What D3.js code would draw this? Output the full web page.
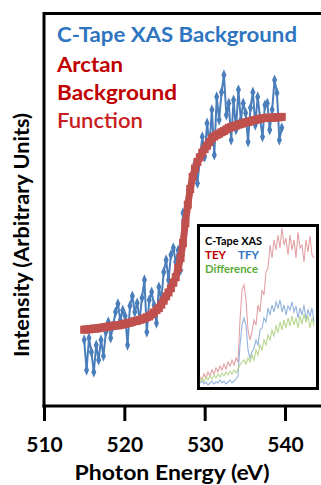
<!DOCTYPE html>
<html><head><meta charset="utf-8">
<script src="https://cdn.jsdelivr.net/npm/d3@7"></script>
<style>html,body{margin:0;padding:0;background:#fff;}svg{display:block;}</style>
</head><body>
<script>
// ---- Data ----
const energyStart = 515, energyStep = 0.3;
const xasBackground = [
 16.6, 8.9, 17.1, 13.5, 8.4, 15.3, 11.5, 16.6, 12.5, 18.6,
 21.2, 17.1, 20.2, 23.7, 25.8, 21.7, 24.2, 22.7, 15.3, 25.3,
 27.8, 23.7, 26.0, 21.7, 27.3, 31.9, 18.6, 26.8, 28.8, 25.5,
 20.9, 30.1, 26.8, 33.9, 37.0, 31.9, 38.3, 40.1, 36.5, 39.5,
 34.4, 49.0, 45.2, 51.0, 54.8, 57.9, 61.7, 56.6, 62.5, 68.4,
 63.3, 71.9, 66.3, 75.3, 63.8, 78.6, 72.7, 79.8, 84.2, 74.0,
 77.0, 67.6, 77.8, 70.2, 80.4, 72.7, 77.0, 74.5, 67.1, 75.8,
 79.8, 71.4, 78.6, 73.2, 68.4, 76.5, 77.0, 70.2, 75.3, 82.9,
 79.6, 67.6, 70.7];
const arctanBackground = [
 19.2, 19.3, 19.3, 19.4, 19.5, 19.5, 19.6, 19.7, 19.8, 19.9,
 20.0, 20.1, 20.2, 20.3, 20.3, 20.4, 20.6, 20.7, 20.9, 21.0,
 21.2, 21.4, 21.5, 21.7, 21.9, 22.1, 22.4, 22.6, 23.1, 23.6,
 24.2, 24.7, 25.6, 26.6, 27.7, 28.7, 29.8, 31.2, 32.6, 35.0,
 37.5, 41.3, 46.4, 51.1, 55.1, 58.2, 60.3, 62.0, 63.2, 64.4,
 65.3, 66.2, 67.1, 68.0, 68.5, 68.9, 69.2, 69.6, 69.9, 70.3,
 70.7, 70.9, 71.1, 71.3, 71.5, 71.7, 71.9, 72.1, 72.2, 72.4,
 72.6, 72.7, 72.9, 73.0, 73.2, 73.2, 73.3, 73.3, 73.3, 73.3,
 73.4, 73.4, 73.5];
const energies = xasBackground.map((_, i) => +(energyStart + i * energyStep).toFixed(2));
const xTicks = [510, 520, 530, 540];

// inset (arbitrary units)
const insetTEY = [
 12,9,15,11,17,13,19,15,21,17,23,19,25,20,27,23,29,24,31,27,
 69,99,104,89,59,49,57,69,64,84,77,99,94,117,121,144,131,149,139,154,
 141,161,144,151,134,154,139,149,131,157,141,144,127,149,137,153,134,131];
const insetTFY = [
 6,8,5,7,4,6,8,5,7,6,9,6,8,5,7,9,6,8,10,13,
 44,64,71,64,39,31,37,41,49,44,59,61,71,67,81,74,84,77,87,81,
 89,77,84,74,83,79,87,77,83,71,81,74,84,69,79,73,81,67];
const insetDiff = [
 8,11,7,12,9,13,10,14,11,15,12,16,13,17,14,18,15,19,16,20,
 24,27,29,25,31,27,34,29,39,34,44,39,49,44,54,49,59,53,63,57,
 67,59,69,61,71,63,73,64,71,61,73,65,75,67,73,61,71,63];

// ---- Chart ----
const W = 321, H = 485;
const FONT = "Lato, 'Open Sans', sans-serif";
const svg = d3.select("body").append("svg").attr("width", W).attr("height", H);

const x = d3.scaleLinear().domain([510, 540]).range([44, 285]);
const y = d3.scaleLinear().domain([0, 100]).range([405, 13]);

// frame lines
svg.append("line").attr("x1", 44).attr("x2", W).attr("y1", 13.5).attr("y2", 13.5)
  .attr("stroke", "#000").attr("stroke-width", 3);
svg.append("line").attr("x1", 44).attr("x2", 44).attr("y1", 12).attr("y2", 407.5)
  .attr("stroke", "#000").attr("stroke-width", 3);

// x axis
const xAxis = d3.axisBottom(x).tickValues(xTicks).tickSize(15).tickPadding(16).tickFormat(d3.format("d"));
const gx = svg.append("g").attr("transform", "translate(0,406)").call(xAxis);
gx.select(".domain").remove();
gx.selectAll(".tick line").attr("stroke", "#000").attr("stroke-width", 3);
gx.selectAll(".tick text").attr("font-family", FONT).attr("font-weight", "bold")
  .attr("font-size", 21).attr("fill", "#000");
svg.append("line").attr("x1", 42.5).attr("x2", W).attr("y1", 406).attr("y2", 406)
  .attr("stroke", "#000").attr("stroke-width", 3);

// axis titles
svg.append("text").attr("x", 172).attr("y", 480).attr("text-anchor", "middle")
  .attr("font-family", FONT).attr("font-weight", "bold").attr("font-size", 20)
  .attr("textLength", 195).attr("lengthAdjust", "spacingAndGlyphs")
  .text("Photon Energy (eV)");
svg.append("text").attr("transform", "translate(29,235) rotate(-90)").attr("text-anchor", "middle")
  .attr("font-family", FONT).attr("font-weight", "bold").attr("font-size", 21)
  .attr("textLength", 244).attr("lengthAdjust", "spacingAndGlyphs")
  .text("Intensity (Arbitrary Units)");

// data series
const blue = "#4a7ebb", red = "#c0504d";
const bluePts = energies.map((e, i) => [e, xasBackground[i]]);
const redPts = energies.map((e, i) => [e, arctanBackground[i]]);
const line = d3.line().x(d => x(d[0])).y(d => y(d[1]));

svg.append("path").datum(bluePts).attr("d", line).attr("fill", "none")
  .attr("stroke", blue).attr("stroke-width", 2);
svg.append("g").selectAll("path").data(bluePts).join("path")
  .attr("d", d3.symbol(d3.symbolDiamond, 30))
  .attr("transform", d => `translate(${x(d[0])},${y(d[1])}) scale(0.85,1.1)`)
  .attr("fill", blue);

svg.append("path").datum(redPts).attr("d", line).attr("fill", "none")
  .attr("stroke", red).attr("stroke-width", 7);
svg.append("g").selectAll("rect").data(redPts).join("rect")
  .attr("x", d => x(d[0]) - 4).attr("y", d => y(d[1]) - 4)
  .attr("width", 8).attr("height", 8).attr("fill", red);

// legend text
svg.append("text").attr("x", 57).attr("y", 42).attr("font-family", FONT).attr("font-weight", "bold")
  .attr("font-size", 21).attr("fill", "#2e75c0").attr("textLength", 240).attr("lengthAdjust", "spacingAndGlyphs")
  .text("C-Tape XAS Background");
svg.append("text").attr("x", 57).attr("y", 72).attr("font-family", FONT).attr("font-weight", "bold")
  .attr("font-size", 21).attr("fill", "#c00000").attr("textLength", 66).attr("lengthAdjust", "spacingAndGlyphs")
  .text("Arctan");
svg.append("text").attr("x", 57).attr("y", 100).attr("font-family", FONT).attr("font-weight", "bold")
  .attr("font-size", 21).attr("fill", "#c00000").attr("textLength", 120).attr("lengthAdjust", "spacingAndGlyphs")
  .text("Background");
svg.append("text").attr("x", 57).attr("y", 128).attr("font-family", FONT).attr("font-weight", "600")
  .attr("font-size", 21).attr("fill", "#c8201e").attr("textLength", 86).attr("lengthAdjust", "spacingAndGlyphs")
  .text("Function");

// ---- Inset ----
const ix = d3.scaleLinear().domain([0, insetTEY.length - 1]).range([200, 314]);
const iy = d3.scaleLinear().domain([0, 164]).range([389, 225]);
svg.append("rect").attr("x", 198.5).attr("y", 225.5).attr("width", 119).attr("height", 163)
  .attr("fill", "#fff").attr("stroke", "#000").attr("stroke-width", 3);
const iline = d3.line().x((d, i) => ix(i)).y(d => iy(d));
[[insetTEY, "#e3a3a6"], [insetTFY, "#93b3dc"], [insetDiff, "#b9d58e"]].forEach(([arr, c]) => {
  svg.append("path").datum(arr).attr("d", iline).attr("fill", "none")
    .attr("stroke", c).attr("stroke-width", 1.1);
});
svg.append("text").attr("x", 205).attr("y", 245).attr("font-family", FONT).attr("font-weight", "bold")
  .attr("font-size", 11).attr("fill", "#000").attr("textLength", 57).attr("lengthAdjust", "spacingAndGlyphs")
  .text("C-Tape XAS");
svg.append("text").attr("x", 205).attr("y", 259).attr("font-family", FONT).attr("font-weight", "bold")
  .attr("font-size", 11.5).attr("fill", "#c00000").text("TEY");
svg.append("text").attr("x", 238).attr("y", 259).attr("font-family", FONT).attr("font-weight", "bold")
  .attr("font-size", 11.5).attr("fill", "#2e75c0").text("TFY");
svg.append("text").attr("x", 205).attr("y", 273).attr("font-family", FONT).attr("font-weight", "bold")
  .attr("font-size", 11).attr("fill", "#5aab3a").attr("textLength", 53).attr("lengthAdjust", "spacingAndGlyphs")
  .text("Difference");
</script>
</body></html>
